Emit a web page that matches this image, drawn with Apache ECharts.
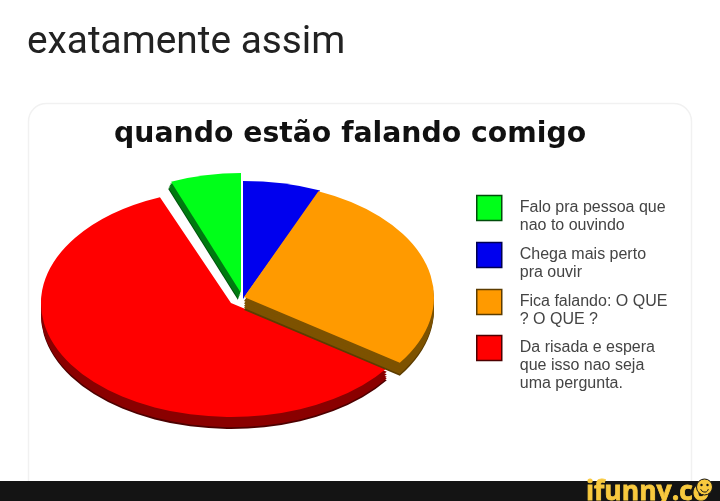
<!DOCTYPE html>
<html><head><meta charset="utf-8">
<style>html,body{margin:0;padding:0;background:#fff}#c{width:720px;height:501px;filter:blur(0.45px)}</style>
<script src="https://cdn.jsdelivr.net/npm/echarts@6/dist/echarts.min.js"></script>
</head><body><div id="c"></div>
<script>
const pageTitle = "exatamente assim";
const chartTitle = "quando estão falando comigo";
const watermark = "ifunny.co";
// legend order, clockwise from 338° (green is pulled out)
const categories = ["Falo pra pessoa que\nnao to ouvindo","Chega mais perto\npra ouvir","Fica falando: O QUE\n? O QUE ?","Da risada e espera\nque isso nao seja\numa pergunta."];
const shares = [6.1, 6.4, 28.3, 59.2];

// styling, per slice
const colors = ["#00ff19","#0000ee","#ff9a00","#ff0000"];
const wallColors = ["#007a10","#000080","#7d5200","#8a0000"];
const wallDark = ["#004d0a","#000050","#5c3c00","#4d0000"];
const geom = [
  {cx:241,cy:293,rx:187,ry:120,dx:-3,dy:7},
  {cx:243,cy:299,rx:197,ry:118,dx:0,dy:0},
  {cx:244,cy:297,rx:190,ry:115,dx:0,dy:13},
  {cx:231,cy:303,rx:190,ry:114,dx:0,dy:12}
];
const swatchCentres = [207.5,254.5,301.5,347.5];
const LINE = 17.8;
const drawOrder = [3,1,2,0];

const total = shares.reduce((a,b)=>a+b,0);
// slices start at 12 o'clock with blue; green closes the circle
const clockOrder = [1,2,3,0];
const startFrac = {}; let acc = 0;
clockOrder.forEach(i=>{startFrac[i]=acc/total; acc+=shares[i];});

function sliceItem(i){
  return function(){
    const g = geom[i];
    const a0 = -Math.PI/2 + startFrac[i]*2*Math.PI;
    const a1 = a0 + shares[i]/total*2*Math.PI;
    const shape = {cx:0,cy:0,r:g.rx,r0:0,startAngle:a0,endAngle:a1,clockwise:true};
    const layer = (k,fill)=>({type:'group',x:g.cx+g.dx*k,y:g.cy+g.dy*k,scaleY:g.ry/g.rx,
      children:[{type:'sector',shape:shape,style:{fill:fill}}]});
    const kids = [];
    if(g.dy){
      kids.push(layer(1,wallDark[i]));
      [0.85,0.7,0.5,0.3].forEach(k=>kids.push(layer(k,wallColors[i])));
    }
    kids.push(layer(0,colors[i]));
    return {type:'group',children:kids};
  };
}

const series = drawOrder.map(i=>({
  type:'custom',name:categories[i],coordinateSystem:'none',
  data:[[shares[i]]],
  itemStyle:{color:colors[i]},
  renderItem:sliceItem(i),silent:true,animation:false
}));

const legends = categories.map((name,i)=>{
  const n = name.split("\n").length;
  return {
    data:[name],left:476,top:swatchCentres[i]-(2*n-1)*LINE/2+0.5,padding:0,
    itemWidth:25,itemHeight:25,icon:'rect',
    selectedMode:false,
    itemStyle:{color:colors[i],borderColor:wallDark[i],borderWidth:1.5},
    formatter:s=>"\n".repeat(n-1)+s,
    textStyle:{fontFamily:"Liberation Sans",fontSize:16,lineHeight:LINE,color:"#444",padding:[0,0,0,13]}
  };
});

const chart = echarts.init(document.getElementById('c'),null,{renderer:'canvas'});
chart.setOption({
  backgroundColor:'#fff',animation:false,
  title:[
    {text:pageTitle,left:27,top:24,padding:0,textStyle:{fontFamily:"Roboto",fontWeight:400,fontSize:38.8,color:"#222"}},
    {text:chartTitle,left:114,top:121,padding:0,textStyle:{fontFamily:"DejaVu Sans",fontWeight:'bold',fontSize:28.3,color:"#111"}}
  ],
  legend:legends,
  series:series,
  graphic:[
    {type:'rect',z:-10,shape:{x:28.5,y:103.5,width:663,height:420,r:18},style:{fill:'#fff',stroke:'#f1f1f1',lineWidth:1.5}},
    {type:'rect',z:100,shape:{x:0,y:481,width:720,height:20},style:{fill:'#141414'}},
    {type:'text',z:101,x:586,y:479,style:{text:watermark,fontFamily:"Open Sans",fontWeight:'bold',fontSize:26.5,fill:'#f8c93e',stroke:'#f8c93e',lineWidth:0.8}},
    {type:'circle',z:102,shape:{cx:704.5,cy:487,r:8},style:{fill:'#f8c93e',stroke:'#141414',lineWidth:1}},
    {type:'circle',z:103,shape:{cx:701.5,cy:485,r:1.2},style:{fill:'#141414'}},
    {type:'circle',z:103,shape:{cx:707.5,cy:485,r:1.2},style:{fill:'#141414'}},
    {type:'arc',z:103,shape:{cx:704.5,cy:488,r:4,startAngle:0.3,endAngle:2.84},style:{stroke:'#141414',lineWidth:1,fill:null}}
  ]
});
</script></body></html>
